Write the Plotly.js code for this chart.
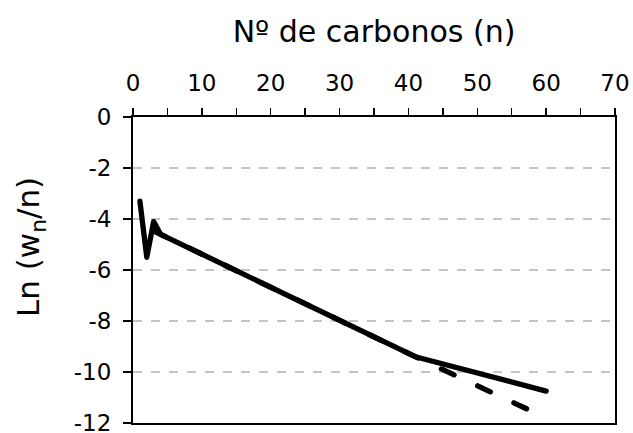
<!DOCTYPE html>
<html>
<head>
<meta charset="utf-8">
<script src="https://cdn.plot.ly/plotly-3.0.1.min.js"></script>
<style>html,body{margin:0;padding:0;background:#fff;}#chart{width:633px;height:433px;}</style>
</head>
<body>
<div id="chart"></div>
<script>
// Series
const solidN = [1, 2, 3, 4, 41, 60];
const solidLn = [-3.3, -5.5, -4.1, -4.6, -9.4, -10.75];
const dashedN = [1, 4, 41, 58];
const dashedLn = [-4.2, -4.6, -9.4, -11.55];

const xTitle = "Nº de carbonos (n)";
const yTitle = "Ln (w<sub>n</sub>/n)";
const xTicks = [0, 10, 20, 30, 40, 50, 60, 70];
const yTicks = [0, -2, -4, -6, -8, -10, -12];
const yTickText = ["0", "-2", "-4", "-6", "-8", "-10", "-12"];

const fontFam = "DejaVu Sans, Lato, sans-serif";

const traces = [
  {x: dashedN, y: dashedLn, mode: 'lines', line: {color: '#000', width: 5.3, dash: '14px,26px'}, hoverinfo: 'skip'},
  {x: solidN, y: solidLn, mode: 'lines', line: {color: '#000', width: 5.3}, hoverinfo: 'skip'}
];

const layout = {
  width: 633, height: 433,
  margin: {l: 133, r: 18, t: 117, b: 10},
  paper_bgcolor: '#fff', plot_bgcolor: '#fff',
  showlegend: false,
  font: {family: fontFam, color: '#000', size: 23},
  xaxis: {
    side: 'top', range: [0, 70], tickvals: xTicks,
    ticks: 'outside', ticklen: 7, tickwidth: 1.5, tickcolor: '#000',
    minor: {dtick: 5, ticks: 'outside', ticklen: 7, tickwidth: 1.5, tickcolor: '#000', showgrid: false},
    showline: true, linecolor: '#000', linewidth: 2, mirror: true,
    showgrid: false, zeroline: false,
    tickfont: {size: 23, family: fontFam},
    ticklabelstandoff: 8,
    ticklabeloverflow: 'allow',
    title: {text: xTitle, font: {size: 30, family: fontFam}, standoff: 18}
  },
  yaxis: {
    range: [-12.001, 0.001], tickvals: yTicks, ticktext: yTickText,
    ticks: 'outside', ticklen: 8, tickwidth: 1.5, tickcolor: '#000',
    showline: true, linecolor: '#000', linewidth: 2, mirror: true,
    showgrid: true, gridcolor: '#c4c4c4', gridwidth: 1.5, griddash: 'dash',
    zeroline: false,
    tickfont: {size: 23, family: fontFam},
    ticklabelstandoff: 7,
    ticklabeloverflow: 'allow'
  },
  annotations: [{
    text: yTitle, xref: 'paper', yref: 'paper', x: 0, y: 0.5,
    xanchor: 'center', yanchor: 'middle', xshift: -103, yshift: 23,
    textangle: -90, showarrow: false, font: {size: 31, family: fontFam}
  }]
};

Plotly.newPlot('chart', traces, layout, {staticPlot: true, displayModeBar: false}).then(function () {
  const paths = document.querySelectorAll('.scatterlayer path.js-line');
  paths.forEach(function (p, i) {
    p.style.strokeLinecap = 'round';
    p.style.strokeLinejoin = 'round';
    if (i === 0) p.style.strokeDashoffset = '25.5px';
  });
});
</script>
</body>
</html>
